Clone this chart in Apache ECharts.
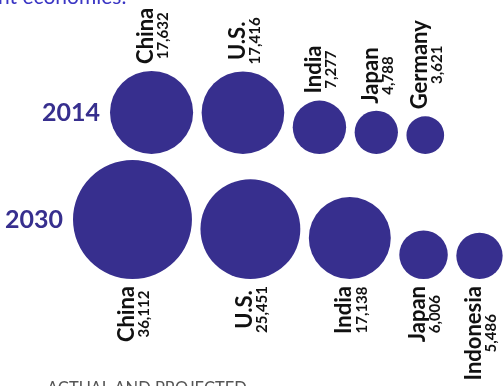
<!DOCTYPE html>
<html>
<head>
<meta charset="utf-8">
<script src="https://cdn.jsdelivr.net/npm/echarts@6/dist/echarts.min.js"></script>
<style>
  html, body { margin: 0; padding: 0; background: #fff; }
  #chart { width: 503px; height: 386px; }
</style>
</head>
<body>
<div id="chart"></div>
<script>
// GDP, billions of dollars
var years = ['2014', '2030'];
var names2014 = ['China', 'U.S.', 'India', 'Japan', 'Germany'];
var gdp2014 = [17632, 17416, 7277, 4788, 3621];
var names2030 = ['China', 'U.S.', 'India', 'Japan', 'Indonesia'];
var gdp2030 = [36112, 25451, 17138, 6006, 5486];

var BLUE = '#372f8e';
var FONT = 'Lato, "DejaVu Sans", sans-serif';
var K = 0.313;   // radius per sqrt(value), in axis units

// row layout: left edge of first bubble, baseline (bubble bottoms), gap
var rows = [
  { year: years[0], names: names2014, values: gdp2014, left: 110, base: 154, gap: 8.5, labelSide: 'top' },
  { year: years[1], names: names2030, values: gdp2030, left: 73, base: 279, gap: 8.5, labelSide: 'bottom' }
];

// data items: [cx, baseline, value, rowIndex, itemIndex]
var data = [];
rows.forEach(function (row, ri) {
  var x = row.left;
  row.values.forEach(function (v, i) {
    var r = K * Math.sqrt(v);
    data.push([x + r, row.base, v, ri, i]);
    x += 2 * r + row.gap;
  });
});

function fmt(v) { return v.toLocaleString('en-US'); }

function renderItem(params, api) {
  var v = api.value(2);
  var ri = api.value(3);
  var i = api.value(4);
  var row = rows[ri];
  var pt = api.coord([api.value(0), api.value(1)]);
  var r = api.size([K * Math.sqrt(v), 0])[0];
  var cx = pt[0], cy = pt[1] - r;
  var children = [{
    type: 'circle',
    shape: { cx: cx, cy: cy, r: r },
    style: { fill: BLUE }
  }];
  var top = row.labelSide === 'top';
  children.push({
    type: 'text',
    x: cx + 1,
    y: top ? cy - r - 7 : cy + r + 7,
    rotation: Math.PI / 2,
    style: {
      text: '{n|' + row.names[i] + '}\n{v|' + fmt(v) + '}',
      align: top ? 'left' : 'right',
      verticalAlign: 'middle',
      rich: {
        n: { fontFamily: FONT, fontWeight: 'bold', fontSize: 22, lineHeight: 22, fill: '#111', align: 'center' },
        v: { fontFamily: FONT, fontWeight: 'bold', fontSize: 15, lineHeight: 13, fill: '#111', align: 'center' }
      }
    }
  });
  if (i === 0) {
    children.push({
      type: 'text',
      x: cx - r - 10,
      y: cy,
      style: {
        text: row.year,
        align: 'right',
        verticalAlign: 'middle',
        fontFamily: FONT,
        fontWeight: 'bold',
        fontSize: 25,
        fill: BLUE
      }
    });
  }
  return { type: 'group', children: children };
}

var chart = echarts.init(document.getElementById('chart'));
chart.setOption({
  animation: false,
  grid: { left: 0, right: 0, top: 0, bottom: 0 },
  xAxis: { type: 'value', min: 0, max: 503, show: false },
  yAxis: { type: 'value', min: 0, max: 386, inverse: true, show: false },
  graphic: [
    {
      type: 'text', left: -2, top: -13,
      style: { text: 'nt economies.', fontFamily: FONT, fontSize: 21, fill: '#3b36c4' }
    },
    {
      type: 'text', left: 47, top: 380,
      style: { text: 'ACTUAL AND PROJECTED', fontFamily: FONT, fontSize: 16.5, fill: '#555' }
    }
  ],
  series: [{
    type: 'custom',
    renderItem: renderItem,
    clip: false,
    data: data
  }]
});
</script>
</body>
</html>
